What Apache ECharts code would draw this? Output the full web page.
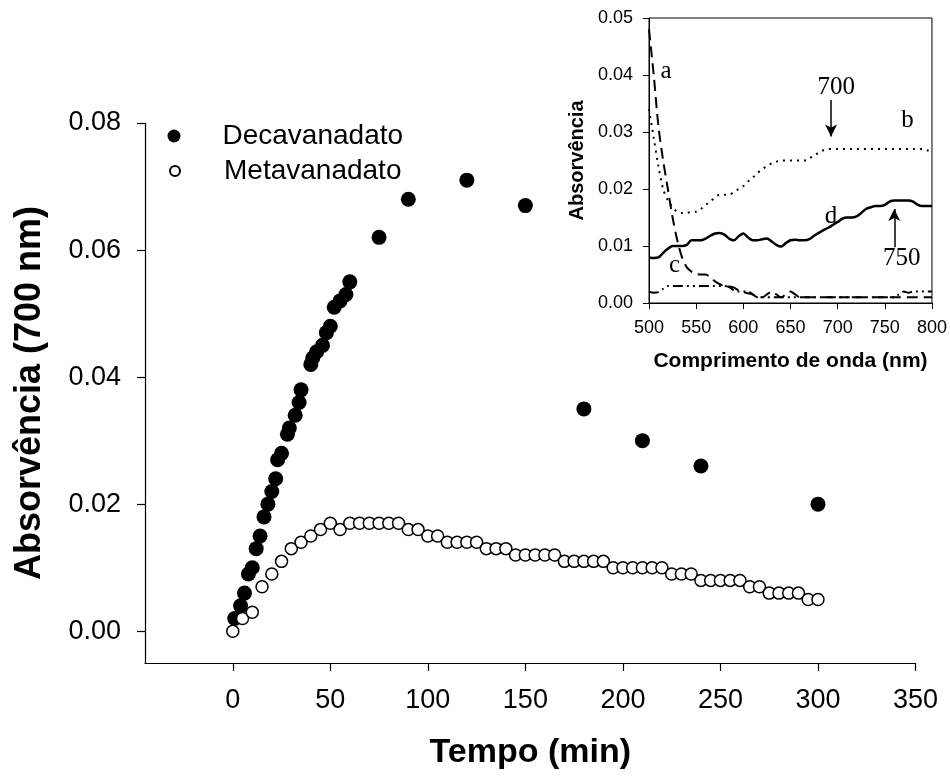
<!DOCTYPE html>
<html>
<head>
<meta charset="utf-8">
<script src="https://cdn.jsdelivr.net/npm/echarts@6/dist/echarts.min.js"></script>
<style>html,body{margin:0;padding:0;background:#fff}#c{width:950px;height:778px}</style>
</head>
<body>
<div id="c"></div>
<script>
// ---- Main chart data ----
const decaTime = [1,4,6,8,10,12,14,16,18,20,22,23,25,28,29,32,34,35,40,41,43,46,48,50,52,55,58,60,75,90,120,150,180,210,240,300];
const decaAbs  = [0.002,0.004,0.006,0.009,0.010,0.013,0.015,0.018,0.020,0.022,0.024,0.027,0.028,0.031,0.032,0.034,0.036,0.038,0.042,0.043,0.044,0.045,0.047,0.048,0.051,0.052,0.053,0.055,0.062,0.068,0.071,0.067,0.035,0.030,0.026,0.020];
const metaTime = [0,5,10,15,20,25,30,35,40,45,50,55,60,65,70,75,80,85,90,95,100,105,110,115,120,125,130,135,140,145,150,155,160,165,170,175,180,185,190,195,200,205,210,215,220,225,230,235,240,245,250,255,260,265,270,275,280,285,290,295,300];
const metaAbs  = [0,0.002,0.003,0.007,0.009,0.011,0.013,0.014,0.015,0.016,0.017,0.016,0.017,0.017,0.017,0.017,0.017,0.017,0.016,0.016,0.015,0.015,0.014,0.014,0.014,0.014,0.013,0.013,0.013,0.012,0.012,0.012,0.012,0.012,0.011,0.011,0.011,0.011,0.011,0.010,0.010,0.010,0.010,0.010,0.010,0.009,0.009,0.009,0.008,0.008,0.008,0.008,0.008,0.007,0.007,0.006,0.006,0.006,0.006,0.005,0.005];
const mainXTicks = [0,50,100,150,200,250,300,350];
const mainYTicks = [0,0.02,0.04,0.06,0.08];

// ---- Inset data (spectra) ----
const wavelength = [500,505,510,515,520,525,530,535,540,545,550,555,560,565,570,575,580,585,590,595,600,605,610,615,620,625,630,635,640,645,650,655,660,665,670,675,680,685,690,695,700,705,710,715,720,725,730,735,740,745,750,755,760,765,770,775,780,785,790,795,800];
const curveA = [0.048,0.040,0.031,0.025,0.020,0.015,0.011,0.008,0.0063,0.0055,0.0051,0.005,0.005,0.0045,0.0038,0.0033,0.003,0.0029,0.0027,0.0022,0.0019,0.0017,0.0015,0.0011,0.001,0.0015,0.002,0.0015,0.001,0.0015,0.002,0.0015,0.001,0.001,0.001,0.001,0.001,0.001,0.001,0.001,0.001,0.001,0.001,0.001,0.001,0.001,0.001,0.001,0.001,0.001,0.001,0.001,0.001,0.001,0.001,0.001,0.001,0.001,0.001,0.001,0.001];
const curveB = [0.034,0.029,0.024,0.020,0.018,0.0168,0.016,0.0158,0.0158,0.016,0.016,0.0165,0.0172,0.0178,0.0185,0.019,0.019,0.019,0.0195,0.020,0.0205,0.0213,0.022,0.0228,0.0235,0.024,0.0245,0.0248,0.025,0.025,0.025,0.025,0.025,0.025,0.0253,0.026,0.0263,0.0268,0.027,0.027,0.027,0.027,0.027,0.027,0.027,0.027,0.027,0.027,0.027,0.027,0.027,0.027,0.027,0.027,0.027,0.027,0.027,0.027,0.027,0.0268,0.0265];
const curveC = [0.002,0.0018,0.0019,0.0025,0.003,0.003,0.003,0.003,0.003,0.003,0.003,0.003,0.003,0.003,0.003,0.003,0.003,0.0028,0.0022,0.002,0.002,0.002,0.0015,0.001,0.001,0.001,0.001,0.001,0.001,0.001,0.001,0.001,0.001,0.001,0.001,0.001,0.001,0.001,0.001,0.001,0.001,0.001,0.001,0.001,0.001,0.001,0.001,0.001,0.001,0.001,0.001,0.001,0.001,0.0015,0.002,0.0018,0.002,0.002,0.002,0.002,0.002];
const curveD = [0.008,0.0079,0.008,0.0088,0.0095,0.010,0.010,0.010,0.0102,0.011,0.011,0.011,0.0113,0.0118,0.0122,0.0123,0.012,0.0113,0.011,0.0117,0.0122,0.0115,0.011,0.011,0.0112,0.0113,0.0108,0.0102,0.0099,0.0105,0.011,0.0111,0.011,0.011,0.0112,0.0118,0.0123,0.0128,0.0132,0.0137,0.0142,0.0148,0.015,0.015,0.0152,0.0158,0.0165,0.0168,0.017,0.017,0.0172,0.0178,0.018,0.018,0.018,0.018,0.0178,0.0172,0.017,0.017,0.017];
const insetXTicks = [500,550,600,650,700,750,800];
const insetYTicks = [0,0.01,0.02,0.03,0.04,0.05];

const SANS = '"Liberation Sans", Arial, sans-serif';
const SERIF = '"Liberation Serif", "Times New Roman", serif';
const zip = (xs, ys) => xs.map((x, i) => [x, ys[i]]);

const chart = echarts.init(document.getElementById('c'), null, {renderer: 'canvas'});

const serifLabel = {show: true, position: 'inside', color: '#000', fontFamily: SERIF, fontSize: 25};
const mp = (x, y, t) => ({coord: [x, y], value: t, symbolSize: 0, label: Object.assign({}, serifLabel, {formatter: t})});

const option = {
  animation: false,
  backgroundColor: '#fff',
  grid: [
    {left: 145, top: 123, right: 34.5, bottom: 115},
    {left: 649, top: 18, right: 16, bottom: 475, show: true, borderColor: '#000', borderWidth: 1, backgroundColor: '#fff'}
  ],
  legend: [
    {data: ['Decavanadato'], left: 162.5, top: 117, itemWidth: 13, itemHeight: 13, selectedMode: false,
     textStyle: {fontSize: 28, color: '#000', fontFamily: SANS, padding: [0, 0, 0, 37]}},
    {data: ['Metavanadato'], left: 164, top: 152, itemWidth: 10, itemHeight: 10, selectedMode: false,
     textStyle: {fontSize: 28, color: '#000', fontFamily: SANS, padding: [0, 0, 0, 39]}}
  ],
  xAxis: [
    {gridIndex: 0, type: 'value', min: -45, max: 350,
     axisLine: {show: true, onZero: false, lineStyle: {color: '#000', width: 1.2}},
     axisTick: {show: true, customValues: mainXTicks, length: 8, lineStyle: {color: '#000', width: 1.2}},
     axisLabel: {customValues: mainXTicks, fontSize: 27, color: '#000', margin: 24, fontFamily: SANS},
     splitLine: {show: false},
     name: 'Tempo (min)', nameLocation: 'middle', nameGap: 73,
     nameTextStyle: {fontSize: 34, fontWeight: 'bold', color: '#000', fontFamily: SANS}},
    {gridIndex: 1, type: 'value', min: 500, max: 800, interval: 50,
     axisLine: {show: true, onZero: false, lineStyle: {color: '#000', width: 1}},
     axisTick: {show: true, length: 6, lineStyle: {color: '#000'}},
     axisLabel: {fontSize: 18, color: '#000', margin: 16, fontFamily: SANS, showMinLabel: true, showMaxLabel: true},
     splitLine: {show: false},
     name: 'Comprimento de onda (nm)', nameLocation: 'middle', nameGap: 48,
     nameTextStyle: {fontSize: 21, fontWeight: 'bold', color: '#000', fontFamily: SANS}}
  ],
  yAxis: [
    {gridIndex: 0, type: 'value', min: -0.005, max: 0.08,
     axisLine: {show: true, onZero: false, lineStyle: {color: '#000', width: 1.2}},
     axisTick: {show: true, customValues: mainYTicks, length: 8, lineStyle: {color: '#000', width: 1.2}},
     axisLabel: {customValues: mainYTicks, fontSize: 27, color: '#000', margin: 24, fontFamily: SANS,
                 formatter: v => v.toFixed(2)},
     splitLine: {show: false},
     name: 'Absorvência (700 nm)', nameLocation: 'middle', nameGap: 97,
     nameTextStyle: {fontSize: 36, fontWeight: 'bold', color: '#000', fontFamily: SANS}},
    {gridIndex: 1, type: 'value', min: 0, max: 0.05, interval: 0.01,
     axisLine: {show: true, onZero: false, lineStyle: {color: '#000', width: 1}},
     axisTick: {show: true, length: 6, lineStyle: {color: '#000'}},
     axisLabel: {fontSize: 18, color: '#000', margin: 16, fontFamily: SANS, formatter: v => v.toFixed(2)},
     splitLine: {show: false},
     name: 'Absorvência', nameLocation: 'middle', nameGap: 62,
     nameTextStyle: {fontSize: 20, fontWeight: 'bold', color: '#000', fontFamily: SANS}}
  ],
  series: [
    {name: 'Decavanadato', type: 'scatter', xAxisIndex: 0, yAxisIndex: 0, symbol: 'circle', symbolSize: 15,
     itemStyle: {color: '#000', opacity: 1}, data: zip(decaTime, decaAbs), z: 3},
    {name: 'Metavanadato', type: 'scatter', xAxisIndex: 0, yAxisIndex: 0, symbol: 'circle', symbolSize: 12,
     itemStyle: {color: '#fff', borderColor: '#000', borderWidth: 1.5, opacity: 1}, data: zip(metaTime, metaAbs), z: 4},
    {name: 'a', type: 'line', xAxisIndex: 1, yAxisIndex: 1, showSymbol: false, smooth: 0.3,
     lineStyle: {color: '#000', width: 2, type: [11, 6]}, data: zip(wavelength, curveA),
     markPoint: {symbol: 'circle', symbolSize: 0, data: [mp(518, 0.0406, 'a'), mp(527, 0.0066, 'c')]}},
    {name: 'b', type: 'line', xAxisIndex: 1, yAxisIndex: 1, showSymbol: false, smooth: 0.3,
     lineStyle: {color: '#000', width: 2, type: [2, 5]}, data: zip(wavelength, curveB),
     markPoint: {symbol: 'circle', symbolSize: 0, data: [mp(774, 0.0321, 'b'), mp(698.6, 0.0378, '700')]},
     markLine: {silent: true, symbol: ['none', 'arrow'], symbolSize: [9, 12],
       lineStyle: {color: '#000', width: 1.5, type: 'solid'}, label: {show: false},
       data: [[{coord: [693, 0.0356]}, {coord: [693, 0.0292]}]]}},
    {name: 'c', type: 'line', xAxisIndex: 1, yAxisIndex: 1, showSymbol: false, smooth: 0.3,
     lineStyle: {color: '#000', width: 2, type: [10, 4, 2, 4, 2, 4]}, data: zip(wavelength, curveC)},
    {name: 'd', type: 'line', xAxisIndex: 1, yAxisIndex: 1, showSymbol: false, smooth: 0.3,
     lineStyle: {color: '#000', width: 2.5, type: 'solid'}, data: zip(wavelength, curveD),
     markPoint: {symbol: 'circle', symbolSize: 0, data: [mp(693, 0.0151, 'd'), mp(768, 0.0078, '750')]},
     markLine: {silent: true, symbol: ['none', 'arrow'], symbolSize: [9, 12],
       lineStyle: {color: '#000', width: 1.5, type: 'solid'}, label: {show: false},
       data: [[{coord: [760, 0.0098]}, {coord: [760, 0.0165]}]]}}
  ]
};
chart.setOption(option);
</script>
</body>
</html>
